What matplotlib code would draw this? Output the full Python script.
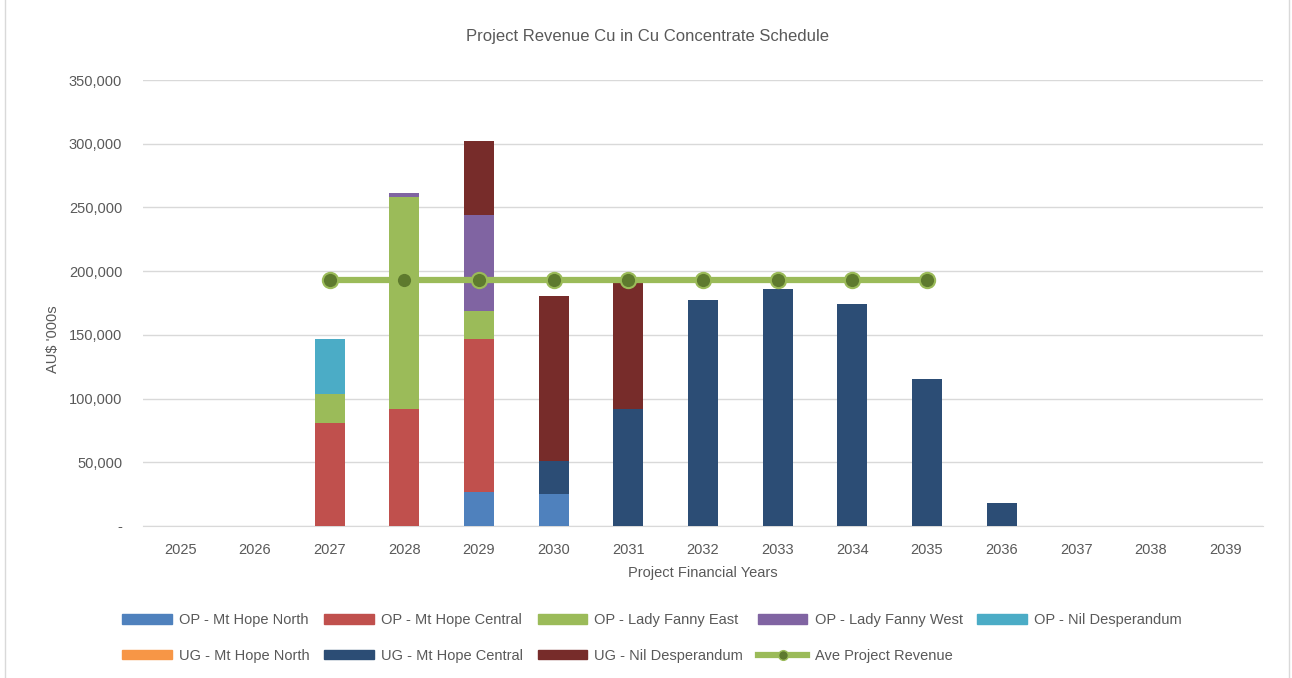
import matplotlib.pyplot as plt
from matplotlib.patches import Rectangle
from matplotlib.lines import Line2D
from matplotlib.ticker import FuncFormatter
import numpy as np

plt.rcParams['font.family'] = ['Liberation Sans', 'DejaVu Sans']

years = ['2025', '2026', '2027', '2028', '2029', '2030', '2031', '2032',
         '2033', '2034', '2035', '2036', '2037', '2038', '2039']

# AU$ '000s
op_mt_hope_north = [0, 0, 0, 0, 26400, 25400, 0, 0, 0, 0, 0, 0, 0, 0, 0]
op_mt_hope_central = [0, 0, 80500, 92000, 120600, 0, 0, 0, 0, 0, 0, 0, 0, 0, 0]
op_lady_fanny_east = [0, 0, 23000, 166000, 21700, 0, 0, 0, 0, 0, 0, 0, 0, 0, 0]
op_lady_fanny_west = [0, 0, 0, 3300, 75300, 0, 0, 0, 0, 0, 0, 0, 0, 0, 0]
op_nil_desperandum = [0, 0, 43000, 0, 0, 0, 0, 0, 0, 0, 0, 0, 0, 0, 0]
ug_mt_hope_north = [0, 0, 0, 0, 0, 0, 0, 0, 0, 0, 0, 0, 0, 0, 0]
ug_mt_hope_central = [0, 0, 0, 0, 0, 25400, 91500, 177400, 186200, 174000,
                      115000, 17800, 0, 0, 0]
ug_nil_desperandum = [0, 0, 0, 0, 58000, 129700, 99500, 0, 0, 0, 0, 0, 0, 0, 0]
ave_years = ['2027', '2028', '2029', '2030', '2031', '2032', '2033', '2034', '2035']
ave_revenue = [193000] * 9

series = [
    ('OP - Mt Hope North', op_mt_hope_north, '#4F81BD'),
    ('OP - Mt Hope Central', op_mt_hope_central, '#C0504D'),
    ('OP - Lady Fanny East', op_lady_fanny_east, '#9BBB59'),
    ('OP - Lady Fanny West', op_lady_fanny_west, '#8064A2'),
    ('OP - Nil Desperandum', op_nil_desperandum, '#4BACC6'),
    ('UG - Mt Hope North', ug_mt_hope_north, '#F79646'),
    ('UG - Mt Hope Central', ug_mt_hope_central, '#2C4D75'),
    ('UG - Nil Desperandum', ug_nil_desperandum, '#772C2A'),
]

text_col = '#595959'
grid_col = '#D9D9D9'
fs = 10.5

fig = plt.figure(figsize=(12.92, 6.78), dpi=100)
ax = fig.add_axes([143 / 1292, 1 - 526 / 678, 1120 / 1292, 446 / 678])

x = np.arange(len(years))
bottom = np.zeros(len(years))
handles = []
for name, vals, col in series:
    vals = np.array(vals, dtype=float)
    ax.bar(x, vals, width=0.4, bottom=bottom, color=col, zorder=3)
    bottom += vals
    handles.append(Rectangle((0, 0), 1, 1, color=col, label=name))

ave_x = [years.index(y) for y in ave_years]
ax.plot(ave_x, ave_revenue, color='#9BBB59', linewidth=4.5, marker='o',
        markersize=11, markerfacecolor='#5E7A2E', markeredgecolor='#9BBB59',
        markeredgewidth=1.5, zorder=4)
handles.append(Line2D([], [], color='#9BBB59', linewidth=4.5, marker='o',
                      markersize=7, markerfacecolor='#5E7A2E',
                      markeredgecolor='#9BBB59', label='Ave Project Revenue'))

ax.set_xlim(-0.5, len(years) - 0.5)
ax.set_ylim(0, 350000)
ax.set_yticks(np.arange(0, 350001, 50000))
ax.yaxis.set_major_formatter(FuncFormatter(lambda v, p: '-' if v == 0 else f'{int(v):,}'))
ax.set_xticks(x)
ax.set_xticklabels(years)
ax.tick_params(axis='both', length=0, labelsize=fs, colors=text_col)
ax.tick_params(axis='y', pad=15)
ax.tick_params(axis='x', pad=12)
ax.grid(axis='y', color=grid_col, linewidth=1, zorder=0)
for s in ['top', 'right', 'left']:
    ax.spines[s].set_visible(False)
ax.spines['bottom'].set_color(grid_col)

fig.text(648 / 1292, 1 - 36 / 678, 'Project Revenue Cu in Cu Concentrate Schedule',
         fontsize=12, color=text_col, ha='center', va='center')
ax.set_xlabel('Project Financial Years', fontsize=fs, color=text_col, labelpad=7)
ax.set_ylabel("AU\\$ '000s", fontsize=fs, color=text_col)
ax.yaxis.set_label_coords(60 / 1292, 0.5, transform=fig.transFigure)

# legend: 5 in first row, 4 in second row (column-major fill)
order = [0, 5, 1, 6, 2, 7, 3, 8, 4]
fig.legend([handles[i] for i in order], [handles[i].get_label() for i in order],
           loc='center', bbox_to_anchor=(652 / 1292, 1 - 638 / 678), ncol=5,
           frameon=False, fontsize=fs, handlelength=3.4, handleheight=0.6,
           columnspacing=1.0, labelspacing=1.5, handletextpad=0.5,
           labelcolor=text_col)

# chart border
fig.patches.append(Rectangle((5 / 1292, -0.01), 1284 / 1292, 1.05, transform=fig.transFigure,
                             fill=False, edgecolor=grid_col, linewidth=1))

fig.savefig('out.png', dpi=100)
